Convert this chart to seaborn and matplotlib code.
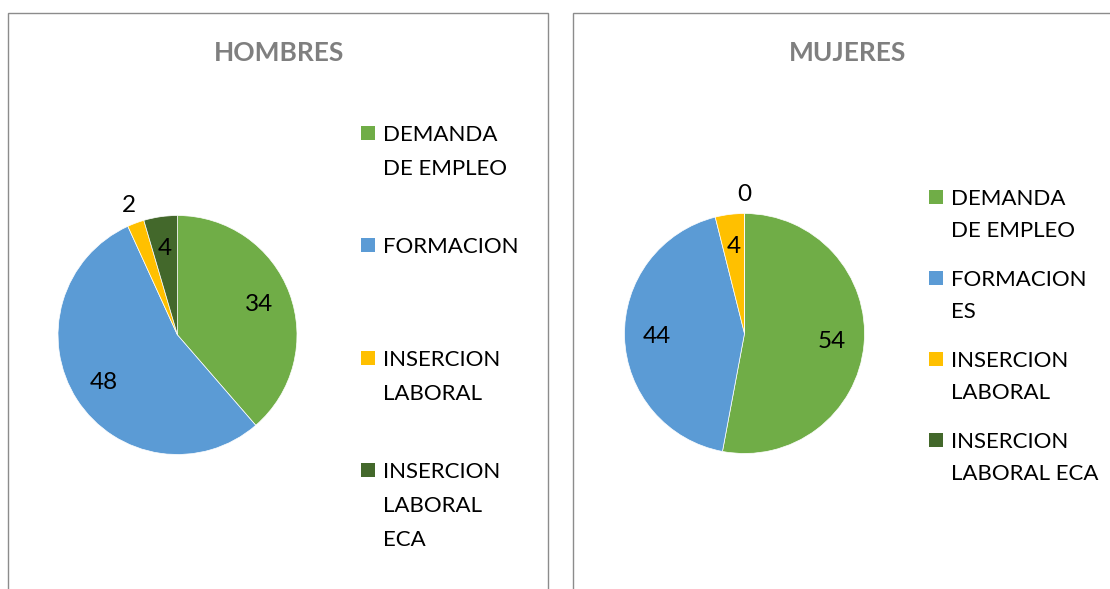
import numpy as np
import pandas as pd
import seaborn as sns
import matplotlib.pyplot as plt
from matplotlib.patches import Rectangle

# datos de las dos tartas
etiquetas_h = ['DEMANDA\nDE EMPLEO', 'FORMACION', 'INSERCION\nLABORAL', 'INSERCION\nLABORAL\nECA']
etiquetas_m = ['DEMANDA\nDE EMPLEO', 'FORMACION\nES', 'INSERCION\nLABORAL', 'INSERCION\nLABORAL ECA']
hombres = [34, 48, 2, 4]
mujeres = [54, 44, 4, 0]
colores = ['#70AD47', '#5B9BD5', '#FFC000', '#43682B']

sns.set_theme(style='white')
plt.rcParams['font.family'] = ['Lato', 'DejaVu Sans']

W, H = 1110, 589
fig = plt.figure(figsize=(W / 100, H / 100), dpi=100)
fig.patch.set_facecolor('white')
paleta = sns.color_palette(colores)


def fx(x):
    return x / W


def fy(y):
    return 1 - y / H


# (titulo, valores, etiquetas, borde izq, borde der, centro titulo, centro tarta, radio,
#  x leyenda, y leyenda, paso, interlineado)
paneles = [
    ('HOMBRES', hombres, etiquetas_h, 8, 548, 279, (177.5, 335), 119.5, 361, 133, 112.3, 34),
    ('MUJERES', mujeres, etiquetas_m, 573, 1115, 848, (744.5, 333.5), 120, 929, 197, 81, 32),
]

for titulo, valores, etiquetas, x0, x1, tcx, centro, r, lx, ly, paso, lin in paneles:
    fig.add_artist(Rectangle((fx(x0), fy(600)), fx(x1 - x0), (600 - 13) / H,
                             transform=fig.transFigure, fill=False,
                             edgecolor='#8c8c8c', lw=1))
    fig.text(fx(tcx), fy(53), titulo, ha='center', va='center',
             fontsize=19, fontweight='bold', color='#7F7F7F')

    lado = 2.5 * r
    ax = fig.add_axes([fx(centro[0] - lado / 2), fy(centro[1] + lado / 2),
                       lado / W, lado / H])
    wedges, _ = ax.pie(valores, colors=paleta, startangle=90, counterclock=False,
                       wedgeprops=dict(edgecolor='white', linewidth=0.5))
    ax.set_xlim(-1.25, 1.25)
    ax.set_ylim(-1.25, 1.25)
    ax.set_aspect('equal')
    ax.axis('off')

    total = sum(valores)
    for w, v in zip(wedges, valores):
        ang = np.deg2rad((w.theta1 + w.theta2) / 2)
        d = 0.73 if v / total >= 0.03 else 1.16
        ax.text(d * np.cos(ang), d * np.sin(ang), str(v), ha='center', va='center',
                fontsize=17.5, color='black')

    # leyenda
    for i, (et, c) in enumerate(zip(etiquetas, paleta)):
        yc = ly + i * paso
        fig.add_artist(Rectangle((fx(lx), fy(yc + 7)), 14 / W, 14 / H,
                                 transform=fig.transFigure, color=c, lw=0))
        for k, linea in enumerate(et.split('\n')):
            fig.text(fx(lx + 22), fy(yc + k * lin), linea, ha='left',
                     va='center_baseline', fontsize=16, color='black')

fig.savefig('out.png', dpi=100)
